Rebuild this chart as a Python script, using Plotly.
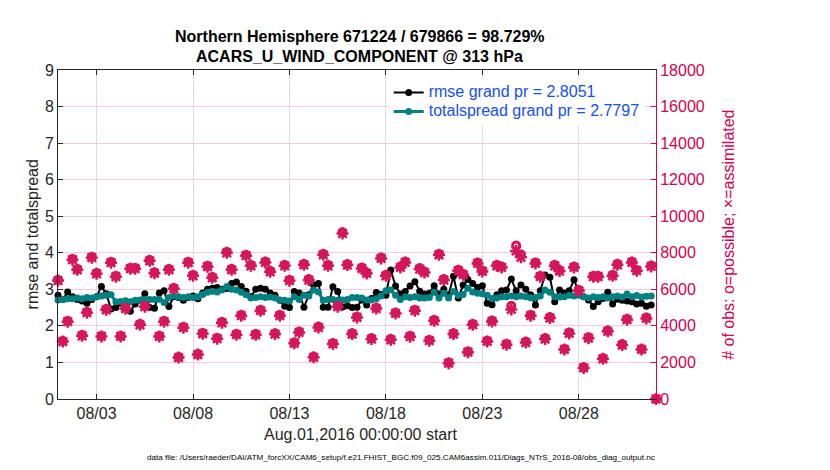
import pandas as pd
import plotly.graph_objects as go

# ---------------- data ----------------
start_time = "2016-08-01 00:00"
n_bins = 125            # 6-hourly bins, Aug 01 00Z .. Sep 01 00Z

rmse = [
    2.84, 2.72, 2.93, 2.80, 2.72, 2.68, 2.62, 2.72, 2.80, 3.08,
    2.88, 2.46, 2.50, 2.62, 2.68, 2.40, 2.60, 2.70, 2.88, 2.50,
    2.48, 2.90, 2.96, 2.53, 2.80, 2.78, 2.70, 2.78, 2.82, 2.74,
    2.90, 3.00, 3.03, 3.05, 3.00, 3.02, 3.16, 3.20, 3.08, 2.95,
    2.80, 3.00, 3.03, 3.00, 2.90, 2.84, 2.70, 2.54, 2.50, 2.94,
    2.90, 2.51, 2.85, 3.12, 3.16, 2.51, 2.51, 3.07, 2.94, 2.52,
    2.55, 2.50, 2.51, 2.71, 2.57, 2.75, 2.91, 2.86, 2.84, 3.53,
    3.09, 2.87, 2.94, 3.09, 3.21, 2.95, 2.87, 2.89, 3.10, 2.87,
    3.00, 2.85, 3.36, 2.76, 3.12, 3.27, 3.16, 3.05, 3.10, 2.62,
    2.58, 2.85, 2.96, 2.98, 3.28, 2.96, 3.12, 3.00, 2.85, 2.57,
    2.96, 3.39, 3.33, 2.66, 2.98, 2.90, 2.96, 3.26, 2.93, 2.80,
    2.71, 2.53, 2.66, 2.75, 2.92, 2.60, 2.73, 2.70, 2.68, 2.66,
    2.60, 2.62, 2.54, 2.57, None,
]

totalspread = [
    2.71, 2.72, 2.74, 2.74, 2.76, 2.74, 2.78, 2.76, 2.80, 2.82,
    2.84, 2.85, 2.66, 2.67, 2.68, 2.66, 2.70, 2.70, 2.73, 2.72,
    2.72, 2.73, 2.64, 2.78, 2.82, 2.80, 2.78, 2.80, 2.78, 2.80,
    2.86, 2.92, 2.95, 2.93, 2.98, 3.08, 3.00, 2.98, 2.92, 2.85,
    2.76, 2.78, 2.80, 2.78, 2.79, 2.76, 2.71, 2.70, 2.68, 2.80,
    2.72, 2.84, 2.82, 2.98, 2.93, 2.70, 2.72, 2.72, 2.70, 2.71,
    2.72, 2.78, 2.78, 2.76, 2.71, 2.71, 2.74, 2.82, 2.96, 2.98,
    2.84, 2.72, 2.80, 2.78, 2.80, 2.76, 2.76, 2.78, 2.92, 2.76,
    2.89, 2.76, 2.94, 2.84, 2.86, 3.03, 2.93, 2.89, 2.88, 2.84,
    2.75, 2.76, 2.80, 2.80, 2.82, 2.80, 2.82, 2.80, 2.77, 2.78,
    2.82, 2.98, 2.92, 2.80, 2.79, 2.80, 2.84, 2.82, 2.84, 2.80,
    2.76, 2.80, 2.78, 2.80, 2.76, 2.80, 2.82, 2.79, 2.87, 2.80,
    2.83, 2.79, 2.81, 2.82, None,
]

obs_possible = [
    6510, 3170, 4270, 7660, 7110, 3500, 4760, 7770, 6890, 3450,
    4920, 7500, 6730, 3450, 4980, 7170, 7170, 4100, 5090, 7600,
    6920, 3450, 4270, 7110, 6070, 2300, 3940, 7500, 6780, 2460,
    3610, 7280, 6670, 3340, 4210, 8040, 7110, 3560, 4600, 7880,
    7330, 3550, 4870, 7510, 7000, 3590, 4600, 7330, 6510, 3080,
    3680, 7380, 6550, 2310, 3950, 7930, 7330, 3050, 5090, 9120,
    7370, 3590, 4500, 7180, 6910, 3320, 4990, 7730, 6780, 3280,
    4720, 7240, 7510, 3450, 4870, 7150, 6960, 3230, 4320, 7930,
    6550, 1990, 3590, 7060, 6840, 2590, 4100, 7460, 7020, 3190,
    4280, 7330, 7240, 3010, 5100, 8400, 7900, 3130, 4600, 7460,
    6730, 3320, 4470, 7330, 7040, 2740, 3630, 7240, 5960, 1730,
    3370, 6730, 6730, 2230, 3740, 6780, 7380, 2990, 4380, 7510,
    7060, 2740, 4450, 7290, 0,
]

obs_assimilated = [
    6480, 3140, 4230, 7620, 7070, 3460, 4720, 7730, 6850, 3420,
    4880, 7460, 6690, 3420, 4940, 7130, 7130, 4060, 5050, 7560,
    6880, 3420, 4230, 7070, 6030, 2270, 3900, 7460, 6740, 2430,
    3570, 7240, 6630, 3300, 4170, 8000, 7070, 3520, 4560, 7840,
    7290, 3510, 4830, 7470, 6960, 3550, 4560, 7290, 6470, 3050,
    3640, 7340, 6510, 2280, 3910, 7890, 7290, 3010, 5050, 9050,
    7330, 3550, 4460, 7140, 6870, 3280, 4950, 7690, 6740, 3240,
    4680, 7200, 7470, 3410, 4830, 7110, 6920, 3190, 4280, 7890,
    6510, 1960, 3550, 7020, 6800, 2560, 4060, 7420, 6980, 3150,
    4240, 7290, 7200, 2970, 4900, 8100, 7750, 3090, 4560, 7420,
    6690, 3280, 4430, 7290, 7000, 2710, 3590, 7200, 5920, 1700,
    3330, 6690, 6690, 2200, 3700, 6740, 7340, 2950, 4340, 7470,
    7020, 2710, 4410, 7250, 0,
]

x_tick_dates = ["2016-08-03", "2016-08-08", "2016-08-13",
                "2016-08-18", "2016-08-23", "2016-08-28"]
x_tick_labels = ["08/03", "08/08", "08/13", "08/18", "08/23", "08/28"]
x_range = ["2016-08-01 00:00", "2016-09-01 00:00"]

rmse_label = "rmse grand pr = 2.8051"
spread_label = "totalspread grand pr = 2.7797"
title_line1 = "Northern Hemisphere 671224 / 679866 = 98.729%"
title_line2 = "ACARS_U_WIND_COMPONENT @ 313 hPa"
x_title = "Aug.01,2016 00:00:00 start"
y_title = "rmse and totalspread"
y2_title = "# of obs: o=possible; \u00d7=assimilated"
footnote = ("data file: /Users/raeder/DAI/ATM_forcXX/CAM6_setup/"
            "f.e21.FHIST_BGC.f09_025.CAM6assim.011/Diags_NTrS_2016-08/obs_diag_output.nc")

# ---------------- styling ----------------
FONT = "Liberation Sans, Arial, Helvetica, sans-serif"
AX = "#262626"
TEAL = "#008080"
PINK = "#D6165C"
CRIMSON = "#D6004F"
BLUE = "#1450F0"

times = pd.date_range(start_time, periods=n_bins, freq="6h")


def big(s):
    return '<span style="font-size:16px">%s</span>' % s


fig = go.Figure()

fig.add_trace(go.Scatter(
    x=times, y=rmse, name=big(rmse_label), mode="lines+markers",
    line=dict(color="black", width=2),
    marker=dict(symbol="circle", size=7, color="black"),
    cliponaxis=False,
))
fig.add_trace(go.Scatter(
    x=times, y=totalspread, name=big(spread_label), mode="lines+markers",
    line=dict(color=TEAL, width=3),
    marker=dict(symbol="circle", size=7, color=TEAL),
    cliponaxis=False,
))
fig.add_trace(go.Scatter(
    x=times, y=obs_possible, yaxis="y2", mode="markers", showlegend=False,
    marker=dict(symbol="circle-open", size=7, color=PINK,
                line=dict(width=3, color=PINK)),
    cliponaxis=False,
))
fig.add_trace(go.Scatter(
    x=times, y=obs_assimilated, yaxis="y2", mode="markers", showlegend=False,
    marker=dict(symbol="asterisk-open", size=10, color=PINK,
                line=dict(width=2.5, color=PINK)),
    cliponaxis=False,
))

annotations = [
    dict(text="<b>%s</b>" % title_line1, x=0.505, y=1.103, xref="paper", yref="paper",
         showarrow=False, xanchor="center", yanchor="middle",
         font=dict(family=FONT, size=16, color="black")),
    dict(text="<b>%s</b>" % title_line2, x=0.505, y=1.04, xref="paper", yref="paper",
         showarrow=False, xanchor="center", yanchor="middle",
         font=dict(family=FONT, size=16, color="black")),
    dict(text=x_title, x=0.506, y=-0.108, xref="paper", yref="paper",
         showarrow=False, xanchor="center", yanchor="middle",
         font=dict(family=FONT, size=16, color=AX)),
    dict(text=y_title, x=-0.042, y=0.5, xref="paper", yref="paper", textangle=-90,
         showarrow=False, xanchor="center", yanchor="middle",
         font=dict(family=FONT, size=16, color=AX)),
    dict(text=y2_title, x=1.121, y=0.5, xref="paper", yref="paper", textangle=-90,
         showarrow=False, xanchor="center", yanchor="middle",
         font=dict(family=FONT, size=16, color=CRIMSON)),
    dict(text=footnote, x=0.574, y=-0.178, xref="paper", yref="paper",
         showarrow=False, xanchor="center", yanchor="middle",
         font=dict(family=FONT, size=8.1, color="black")),
]

fig.update_layout(
    width=822, height=462,
    margin=dict(l=50, r=174, t=62, b=71, autoexpand=False),
    paper_bgcolor="white", plot_bgcolor="white",
    font=dict(family=FONT, size=16, color=AX),
    showlegend=True,
    legend=dict(x=0.553, y=0.976, xanchor="left", yanchor="top",
                bgcolor="white", borderwidth=0, tracegroupgap=0,
                font=dict(family=FONT, size=12, color=BLUE)),
    xaxis=dict(type="date", range=x_range, tickvals=x_tick_dates, ticktext=x_tick_labels,
               ticks="inside", ticklen=5, tickcolor=AX, showline=True, linecolor=AX,
               linewidth=1, mirror="ticks", showgrid=True, gridcolor="#DDDDDD",
               zeroline=False, tickfont=dict(family=FONT, size=16, color=AX)),
    yaxis=dict(range=[0, 9], dtick=1, ticks="inside", ticklen=5, tickcolor=AX,
               showline=True, linecolor=AX, linewidth=1, showgrid=False, zeroline=False,
               tickfont=dict(family=FONT, size=16, color=AX)),
    yaxis2=dict(range=[0, 18000], dtick=2000, overlaying="y", side="right",
                tickformat="d",
                ticks="inside", ticklen=5, tickcolor=CRIMSON, showline=True,
                linecolor=CRIMSON, linewidth=1, showgrid=True, gridcolor="#F6CADA",
                zeroline=False, tickfont=dict(family=FONT, size=16, color=CRIMSON)),
    annotations=annotations,
)

fig.write_html("out.html")
